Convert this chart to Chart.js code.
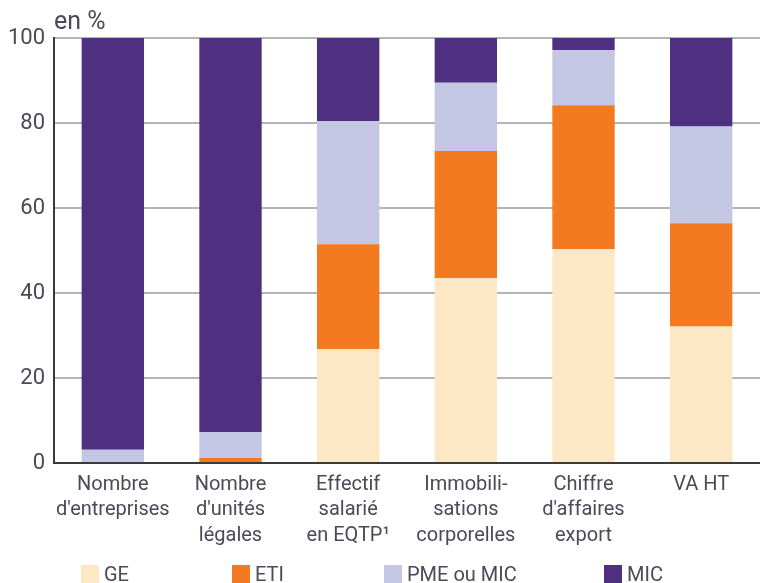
<!DOCTYPE html>
<html>
<head>
<meta charset="utf-8">
<script src="https://cdn.jsdelivr.net/npm/chart.js@4"></script>
<style>
  body { margin: 0; background: #fff; }
  #wrap { position: relative; width: 760px; height: 583px; overflow: hidden; }
  #unit { position: absolute; left: 54px; top: 6px; font: 25px Roboto, sans-serif; color: #4a4a58; }
  .leg { position: absolute; top: 565px; font: 20px Roboto, sans-serif; color: #4a4a58; line-height: 19px; white-space: nowrap; }
  .leg span { display: inline-block; width: 18px; height: 18px; vertical-align: top; margin-right: 5px; }
</style>
</head>
<body>
<div id="wrap">
  <canvas id="chart" width="760" height="583"></canvas>
  <div id="unit">en %</div>
  <div id="legend"></div>
</div>
<script>
const categories = [
  ["Nombre", "d'entreprises"],
  ["Nombre", "d'unités", "légales"],
  ["Effectif", "salarié", "en EQTP¹"],
  ["Immobili-", "sations", "corporelles"],
  ["Chiffre", "d'affaires", "export"],
  ["VA HT"]
];
const seriesNames = ["GE", "ETI", "PME ou MIC", "MIC"];
const geValues = [0, 0, 26.8, 43.5, 50.3, 32.1];
const etiValues = [0, 1.2, 24.7, 29.9, 33.9, 24.3];
const pmeValues = [3.1, 6.1, 28.9, 16.1, 13.0, 22.8];
const micValues = [96.9, 92.7, 19.6, 10.5, 2.8, 20.8];
const colors = ["#fde8c6", "#f47a22", "#c3c7e4", "#4f2f80"];
const legendX = [81, 232, 384, 604];

const fontFamily = "Roboto, sans-serif";
const textColor = "#4a4a58";

const allValues = [geValues, etiValues, pmeValues, micValues];
const datasets = seriesNames.map((name, i) => ({
    label: name,
    data: allValues[i],
    backgroundColor: colors[i],
    borderWidth: 0,
    barPercentage: 0.53,
    categoryPercentage: 1
}));

new Chart(document.getElementById("chart").getContext("2d"), {
    type: "bar",
    data: { labels: categories, datasets: datasets },
    options: {
        responsive: false,
        animation: false,
        layout: { padding: { top: 38, right: 0, left: 0, bottom: 0 } },
        plugins: { legend: { display: false }, tooltip: { enabled: false } },
        scales: {
            x: {
                stacked: true,
                grid: { display: false, drawTicks: false },
                border: { color: "#3a3a3a", width: 2 },
                ticks: {
                    color: textColor,
                    padding: 9,
                    maxRotation: 0,
                    autoSkip: false,
                    font: { family: fontFamily, size: 20, lineHeight: 1.27 }
                },
                afterFit: (s) => { s.height = 120; }
            },
            y: {
                stacked: true,
                min: 0,
                max: 100,
                ticks: {
                    stepSize: 20,
                    color: textColor,
                    padding: 9,
                    font: { family: fontFamily, size: 22 }
                },
                grid: { color: "#b4b4b4", lineWidth: 2, drawTicks: false },
                border: { color: "#3a3a3a", width: 2 },
                afterFit: (s) => { s.width = 54; }
            }
        }
    }
});

// legend
const legend = document.getElementById("legend");
seriesNames.forEach((name, i) => {
    const item = document.createElement("div");
    item.className = "leg";
    item.style.left = legendX[i] + "px";
    item.innerHTML = '<span style="background:' + colors[i] + '"></span>' + name;
    legend.appendChild(item);
});
</script>
</body>
</html>
